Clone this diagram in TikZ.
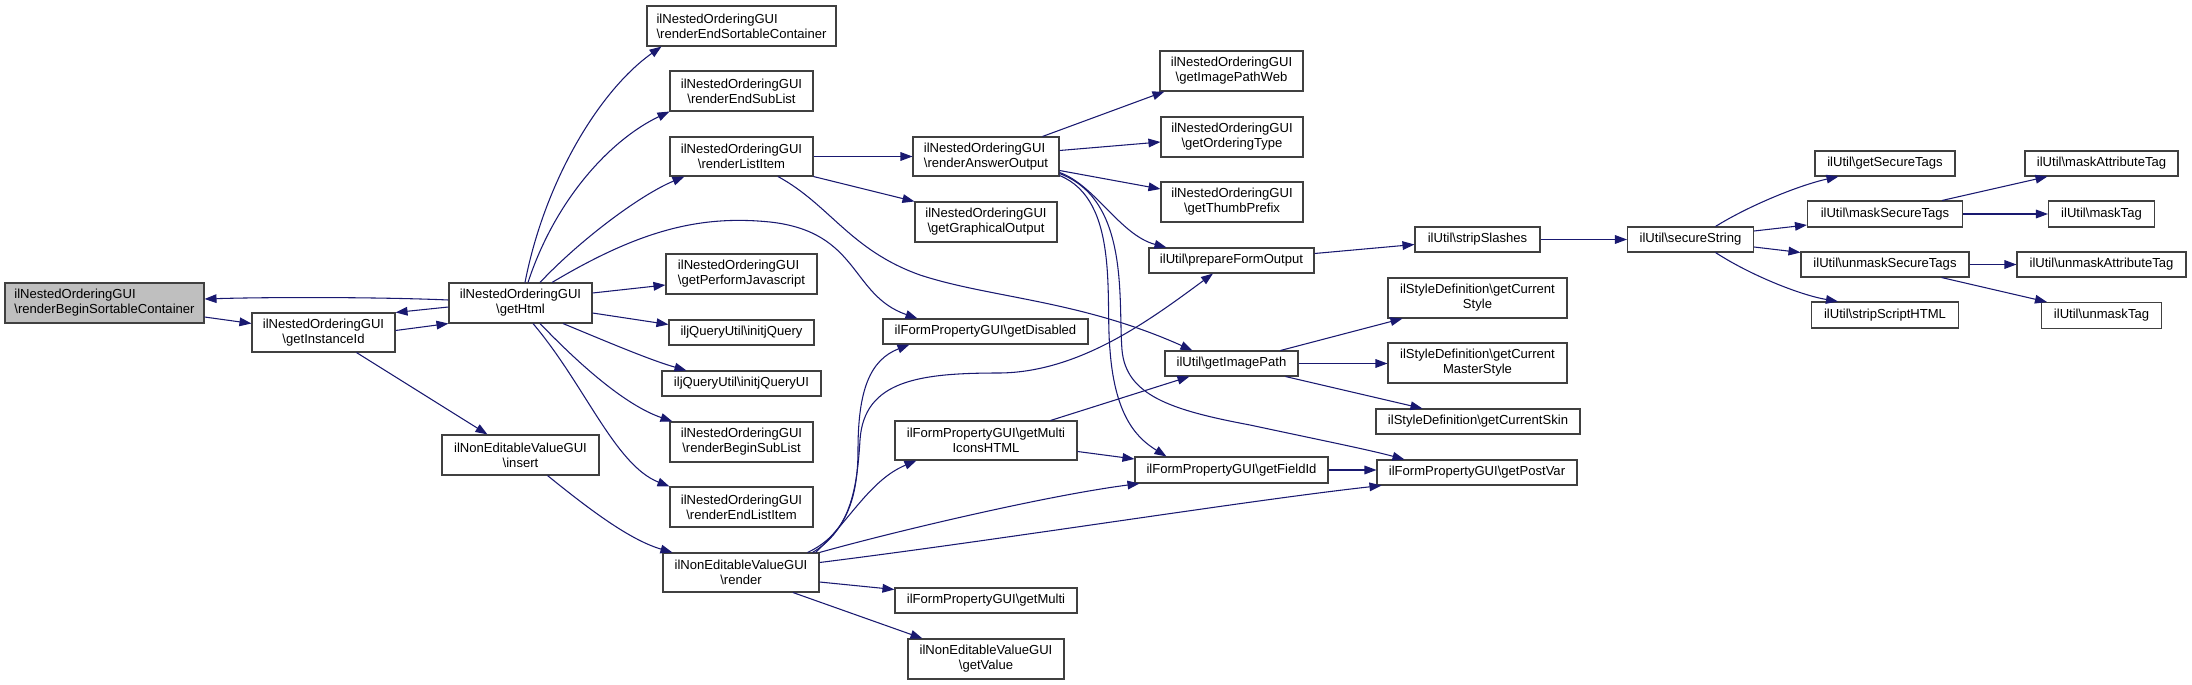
\documentclass[tikz,border=0pt]{standalone}
\usepackage{fontspec}
\setmainfont{Liberation Sans}
\usetikzlibrary{arrows.meta,calc}
\definecolor{edgec}{HTML}{191970}
\definecolor{nodec}{HTML}{404040}
\definecolor{rootc}{HTML}{BFBFBF}
\newcommand{\mybs}{\textbackslash}
\begin{document}
\begin{tikzpicture}[x=0.75pt,y=-0.75pt,
  nb/.style 2 args={draw=nodec, line width=0.8pt, fill=white, rectangle, inner sep=0pt,
    minimum width=#1*0.75pt, minimum height=#2*0.75pt,
    font=\fontsize{9.8pt}{11.25pt}\selectfont, align=center},
  ed/.style={draw=edgec, line width=0.8pt, -{Triangle[length=9pt,width=6.5pt]}}]
\useasboundingbox (0,0) rectangle (2192,685);

% nodes
\node[nb={199}{40},fill=rootc,align=left] (rbsc) at (104.5,303) {ilNestedOrderingGUI\\\mybs renderBeginSortableContainer};
\node[nb={143}{39}] (gid) at (323.5,332.5) {ilNestedOrderingGUI\\\mybs getInstanceId};
\node[nb={143}{40}] (ghtml) at (520.5,303) {ilNestedOrderingGUI\\\mybs getHtml};
\node[nb={189}{40},align=left] (rest) at (741.5,26) {ilNestedOrderingGUI\\\mybs renderEndSortableContainer};
\node[nb={143}{40}] (resl) at (741.5,91) {ilNestedOrderingGUI\\\mybs renderEndSubList};
\node[nb={143}{39}] (rli) at (741.5,156.5) {ilNestedOrderingGUI\\\mybs renderListItem};
\node[nb={151}{40},align=left] (gpj) at (741.5,274) {ilNestedOrderingGUI\\\mybs getPerformJavascript};
\node[nb={145}{25}] (ijq) at (741.5,332.5) {iljQueryUtil\mybs initjQuery};
\node[nb={159}{25}] (ijqui) at (741.5,383.5) {iljQueryUtil\mybs initjQueryUI};
\node[nb={143}{40}] (rbsl) at (741.5,442) {ilNestedOrderingGUI\\\mybs renderBeginSubList};
\node[nb={143}{40}] (reli) at (741.5,507) {ilNestedOrderingGUI\\\mybs renderEndListItem};
\node[nb={157}{40}] (ins) at (520.5,455) {ilNonEditableValueGUI\\\mybs insert};
\node[nb={156}{39}] (rnd) at (741,572.5) {ilNonEditableValueGUI\\\mybs render};
\node[nb={146}{39},align=left] (rao) at (986,156.5) {ilNestedOrderingGUI\\\mybs renderAnswerOutput};
\node[nb={142}{40}] (ggo) at (986,222) {ilNestedOrderingGUI\\\mybs getGraphicalOutput};
\node[nb={205}{25}] (gdis) at (985.5,331.5) {ilFormPropertyGUI\mybs getDisabled};
\node[nb={182}{39}] (gmih) at (986,440.5) {ilFormPropertyGUI\mybs getMulti\\IconsHTML};
\node[nb={182}{25}] (gmul) at (986,600.5) {ilFormPropertyGUI\mybs getMulti};
\node[nb={156}{40}] (gval) at (986,659) {ilNonEditableValueGUI\\\mybs getValue};
\node[nb={143}{40}] (gipw) at (1231.5,71) {ilNestedOrderingGUI\\\mybs getImagePathWeb};
\node[nb={142}{40}] (got) at (1232,137) {ilNestedOrderingGUI\\\mybs getOrderingType};
\node[nb={142}{40}] (gtp) at (1232,202) {ilNestedOrderingGUI\\\mybs getThumbPrefix};
\node[nb={165}{25}] (pfo) at (1231.5,260.5) {ilUtil\mybs prepareFormOutput};
\node[nb={133}{25}] (gip) at (1231.5,363.5) {ilUtil\mybs getImagePath};
\node[nb={193}{26}] (gfid) at (1231.5,470) {ilFormPropertyGUI\mybs getFieldId};
\node[nb={125}{25}] (ssl) at (1477.5,239.5) {ilUtil\mybs stripSlashes};
\node[nb={179}{40}] (gcs) at (1477.5,298) {ilStyleDefinition\mybs getCurrent\\Style};
\node[nb={179}{40}] (gcms) at (1477.5,363) {ilStyleDefinition\mybs getCurrent\\MasterStyle};
\node[nb={204}{25}] (gcsk) at (1478,421.5) {ilStyleDefinition\mybs getCurrentSkin};
\node[nb={200}{25}] (gpv) at (1477,472.5) {ilFormPropertyGUI\mybs getPostVar};
\node[nb={126}{25}] (sst) at (1690.5,239.5) {ilUtil\mybs secureString};
\node[nb={140}{25}] (gst) at (1885,163.5) {ilUtil\mybs getSecureTags};
\node[nb={155}{26}] (mst) at (1885,214) {ilUtil\mybs maskSecureTags};
\node[nb={168}{25}] (umst) at (1885,264.5) {ilUtil\mybs unmaskSecureTags};
\node[nb={147}{26}] (ssh) at (1885,315) {ilUtil\mybs stripScriptHTML};
\node[nb={153}{25}] (mat) at (2101.5,163.5) {ilUtil\mybs maskAttributeTag};
\node[nb={106}{26}] (mt) at (2101.5,214) {ilUtil\mybs maskTag};
\node[nb={169}{25}] (umat) at (2101.5,264.5) {ilUtil\mybs unmaskAttributeTag};
\node[nb={120}{26}] (umt) at (2101.5,315.5) {ilUtil\mybs unmaskTag};

% edges
\draw[ed] ($(rbsc.east)+(0,14)$) -- ($(gid.west)+(0,-9)$);
\draw[ed] ($(gid.east)+(0,-2)$) -- (ghtml.south west);
\draw[ed] ($(ghtml.west)+(0,4)$) -- (gid.north east);
\draw[ed] ($(ghtml.west)+(0,-3)$) .. controls (380,297) and (270,297) .. ($(rbsc.east)+(0,-4)$);
\draw[ed] ($(gid.south)+(33,0)$) -- ($(ins.north)+(-33,0)$);
\draw[ed] ($(ghtml.north)+(4.5,0)$) .. controls (545,180) and (600,90) .. ($(rest.south west)+(15,0)$);
\draw[ed] ($(ghtml.north)+(7.5,0)$) .. controls (555,200) and (610,140) .. (resl.south west);
\draw[ed] ($(ghtml.north)+(19.5,0)$) .. controls (580,240) and (640,195) .. ($(rli.south west)+(15,0)$);
\draw[ed] ($(ghtml.north)+(31.5,0)$) .. controls (640,230) and (700,215) .. (770,222) .. controls (860,232) and (850,295) .. ($(gdis.north west)+(35,0)$);
\draw[ed] ($(ghtml.east)+(0,-10)$) -- ($(gpj.west)+(0,11)$);
\draw[ed] ($(ghtml.east)+(0,10)$) -- ($(ijq.west)+(0,-8)$);
\draw[ed] ($(ghtml.south)+(42.5,0)$) .. controls (610,343) and (650,360) .. ($(ijqui.north west)+(25,0)$);
\draw[ed] ($(ghtml.south)+(19.5,0)$) .. controls (580,365) and (625,405) .. ($(rbsl.north west)+(3,0)$);
\draw[ed] ($(ghtml.south)+(12.5,0)$) .. controls (585,385) and (615,465) .. (reli.north west);
\draw[ed] ($(ins.south)+(27,0)$) .. controls (590,510) and (630,540) .. ($(rnd.north west)+(10,0)$);
\draw[ed] (rli.east) -- (rao.west);
\draw[ed] (rli.south east) -- (ggo.north west);
\draw[ed] ($(rli.south)+(36.5,0)$) .. controls (830,205) and (850,250) .. (920,275) .. controls (990,298) and (1080,300) .. ($(gip.north west)+(28,0)$);
\draw[ed] ($(rao.north east)+(-17,0)$) -- ($(gipw.south west)+(5,0)$);
\draw[ed] ($(rao.east)+(0,-6)$) -- ($(got.west)+(0,5)$);
\draw[ed] ($(rao.east)+(0,14)$) -- ($(gtp.west)+(0,-13)$);
\draw[ed] ($(rao.east)+(0,16)$) .. controls (1095,185) and (1120,235) .. ($(pfo.north west)+(18,0)$);
\draw[ed] ($(rao.south east)+(0,-1)$) .. controls (1120,200) and (1105,300) .. (1110,350) .. controls (1115,420) and (1140,440) .. ($(gfid.north west)+(32,0)$);
\draw[ed] ($(rao.south east)+(0,-3)$) .. controls (1130,200) and (1118,300) .. (1122,350) .. controls (1126,395) and (1170,410) .. (1250,425) .. controls (1320,440) and (1370,450) .. ($(gpv.north west)+(28,0)$);
\draw[ed] ($(rnd.north east)+(-12,0)$) .. controls (845,535) and (858,500) .. (858,450) .. controls (858,390) and (870,360) .. ($(gdis.south west)+(27,0)$);
\draw[ed] ($(rnd.north east)+(-7,0)$) .. controls (850,530) and (857,490) .. (860,440) .. controls (864,380) and (920,373) .. (1000,373) .. controls (1080,372) and (1150,320) .. ($(pfo.south)+(-18.5,0)$);
\draw[ed] ($(rnd.north east)+(-4,0)$) .. controls (850,520) and (870,480) .. ($(gmih.south west)+(22,0)$);
\draw[ed] (rnd.north east) .. controls (900,530) and (1050,495) .. ($(gfid.south west)+(5,0)$);
\draw[ed] ($(rnd.east)+(0,-10)$) .. controls (1000,540) and (1250,500) .. ($(gpv.south west)+(5,0)$);
\draw[ed] ($(rnd.east)+(0,9.5)$) -- ($(gmul.west)+(0,-11)$);
\draw[ed] ($(rnd.south)+(52,0)$) -- ($(gval.north west)+(15,0)$);
\draw[ed] ($(gmih.north east)+(-27,0)$) -- ($(gip.south west)+(25,0)$);
\draw[ed] ($(gmih.east)+(0,11)$) -- ($(gfid.west)+(0,-11)$);
\draw[ed] (gfid.east) -- (gfid.east -| gpv.west);
\draw[ed] ($(pfo.east)+(0,-7)$) -- ($(ssl.west)+(0,5)$);
\draw[ed] (ssl.east) -- (sst.west);
\draw[ed] ($(gip.north east)+(-18,0)$) -- ($(gcs.south west)+(15,0)$);
\draw[ed] (gip.east) -- (gip.east -| gcms.west);
\draw[ed] ($(gip.south east)+(-13,0)$) -- ($(gcsk.north west)+(47,0)$);
\draw[ed] ($(sst.north)+(25,0)$) .. controls (1750,205) and (1800,185) .. ($(gst.south west)+(24,0)$);
\draw[ed] ($(sst.east)+(0,-8.5)$) -- ($(mst.west)+(0,11)$);
\draw[ed] ($(sst.east)+(0,7.5)$) -- ($(umst.west)+(0,-12)$);
\draw[ed] ($(sst.south)+(25,0)$) .. controls (1750,275) and (1800,295) .. ($(ssh.north west)+(27,0)$);
\draw[ed] ($(mst.north east)+(-21,0)$) -- ($(mat.south west)+(23,0)$);
\draw[ed] (mst.east) -- (mt.west);
\draw[ed] (umst.east) -- (umat.west);
\draw[ed] ($(umst.south east)+(-28,0)$) -- ($(umt.north west)+(6,0)$);
\end{tikzpicture}
\end{document}
